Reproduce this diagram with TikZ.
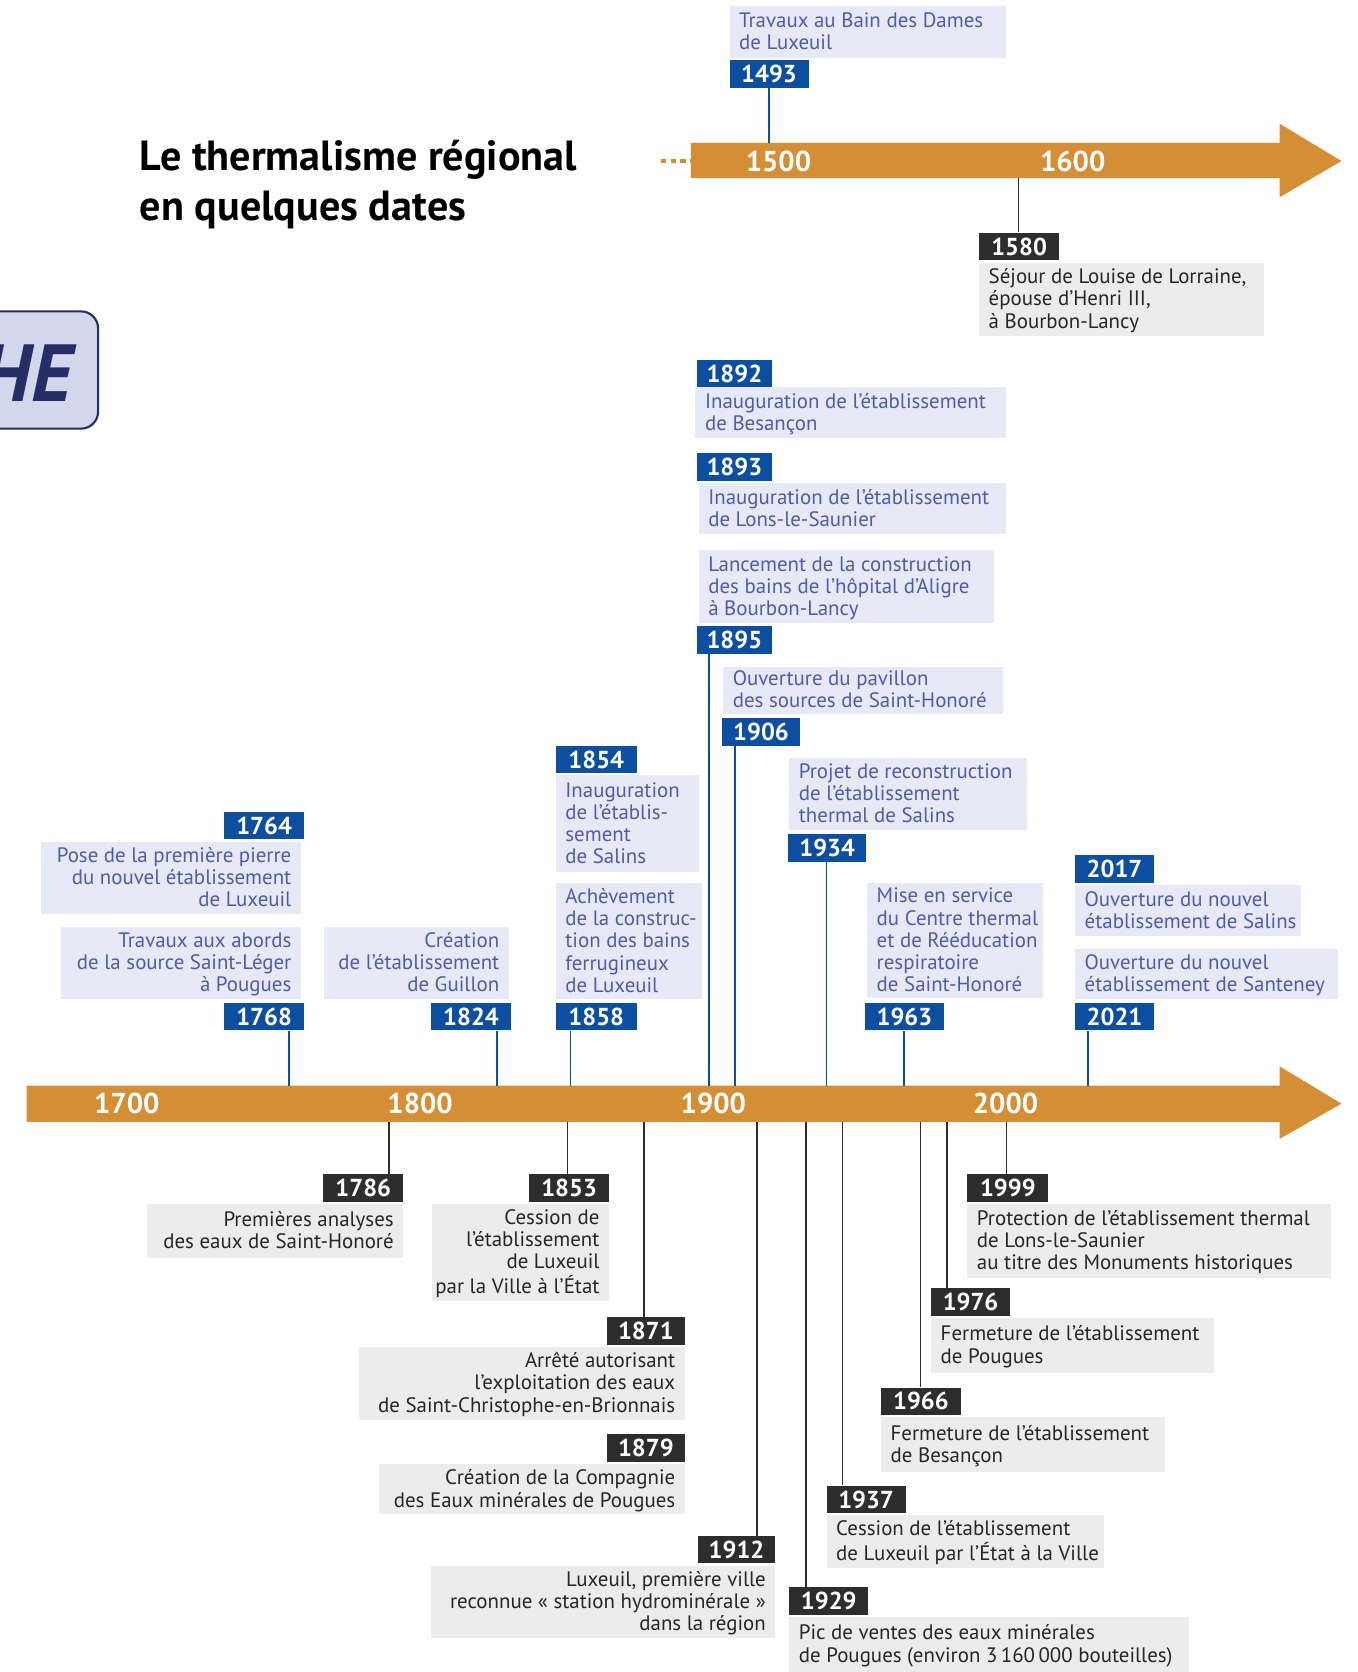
\documentclass[tikz,border=0pt]{standalone}
\usepackage{fontspec}
\setmainfont{PT Sans}
\definecolor{orng}{RGB}{214,142,52}
\definecolor{yblue}{RGB}{12,78,160}
\definecolor{lblue}{RGB}{231,233,246}
\definecolor{tblue}{RGB}{78,92,172}
\definecolor{lgray}{RGB}{236,236,236}
\definecolor{ydark}{RGB}{45,45,45}
\definecolor{tgray}{RGB}{38,38,38}
\definecolor{navy}{RGB}{38,46,102}
\definecolor{lav}{RGB}{210,215,235}
\newcommand\tbl[2]{\makebox[#1pt][l]{\raisebox{-2pt}[\height][\depth]{\begin{tabular}{@{}l@{}}#2\end{tabular}}}}
\newcommand\tbr[2]{\makebox[#1pt][r]{\raisebox{-2pt}[\height][\depth]{\begin{tabular}{@{}r@{}}#2\end{tabular}}}}
\begin{document}
\begin{tikzpicture}[x=1pt,y=-1pt,
 yr/.style={anchor=north west, minimum width=74pt, minimum height=26pt, inner sep=0pt, text=white, font=\fontsize{23}{23}\selectfont\bfseries},
 yrb/.style={yr, fill=yblue},
 yrd/.style={yr, fill=ydark},
 txt/.style={anchor=north west, inner xsep=9pt, inner ysep=0pt, font=\fontsize{19.6}{20.8}\selectfont},
 txb/.style={txt, fill=lblue, text=tblue},
 txg/.style={txt, fill=lgray, text=tgray},
 cb/.style={yblue, line width=1.6pt},
 cd/.style={ydark, line width=1.4pt},
 axl/.style={text=white, font=\fontsize{27}{27}\selectfont\bfseries, inner sep=0pt},
]
\useasboundingbox (0,0) rectangle (1273,1568);

% title
\node[anchor=west, align=left, inner sep=0pt, font=\fontsize{39.5}{47}\selectfont\bfseries] (title) at (131,173) {Le thermalisme régional\\en quelques dates};

% HE tab
\draw[navy, line width=2pt, fill=lav, rounded corners=16pt] (-40,292) rectangle (92,402);
\node[anchor=east, inner sep=0pt, text=navy, font=\fontsize{76}{76}\selectfont\bfseries\itshape] (he) at (68,350) {HE};

% top arrow
\draw[orng, line width=4pt, dash pattern=on 5pt off 4pt] (620,151) -- (648,151);
\fill[orng] (648,134) -- (1200,134) -- (1200,116) -- (1258,151) -- (1200,185) -- (1200,167) -- (648,167) -- cycle;
\node[axl] (l1500) at (730,151) {1500};
\node[axl] (l1600) at (1006,151) {1600};

% main arrow
\fill[orng] (25,1018) -- (1200,1018) -- (1200,1000) -- (1258,1035) -- (1200,1068) -- (1200,1052) -- (25,1052) -- cycle;
\node[axl] (l1700) at (119,1035) {1700};
\node[axl] (l1800) at (394,1035) {1800};
\node[axl] (l1900) at (669,1035) {1900};
\node[axl] (l2000) at (943,1035) {2000};

% ---- top events
\node[txb, minimum height=49pt] (t1493) at (684,5) {\tbl{241}{Travaux au Bain des Dames\\de Luxeuil}};
\node[yrb] (y1493) at (684,56) {1493};
\coordinate (m1493) at (721,134);
\draw[cb] (m1493) -- (m1493 |- y1493.south);

\node[yrd, minimum width=75pt] (y1580) at (918,218) {1580};
\node[txg, minimum height=69pt] (t1580) at (918,246) {\tbl{249}{Séjour de Louise de Lorraine,\\épouse d’Henri III,\\à Bourbon-Lancy}};
\coordinate (m1580) at (955,167);
\draw[cd] (m1580) -- (m1580 |- y1580.north);

% ---- blue events above main axis
\node[yrb, minimum width=71pt] (y1892) at (653,337) {1892};
\node[txb, minimum height=48pt] (t1892) at (652,363) {\tbl{273}{Inauguration de l’établissement\\de Besançon}};

\node[yrb, minimum width=71pt] (y1893) at (653,425) {1893};
\node[txb, minimum height=48pt] (t1893) at (655,453) {\tbl{270}{Inauguration de l’établissement\\de Lons-le-Saunier}};

\node[txb, minimum height=68pt] (t1895) at (655,516) {\tbl{259}{Lancement de la construction\\des bains de l’hôpital d’Aligre\\à Bourbon-Lancy}};
\node[yrb, minimum width=71pt] (y1895) at (653,587) {1895};

\node[txb, minimum height=44pt] (t1906) at (678,625) {\tbl{244}{Ouverture du pavillon\\des sources de Saint-Honoré}};
\node[yrb, minimum width=73pt] (y1906) at (677,673) {1906};

\node[txb, minimum height=67pt] (t1934) at (740,711) {\tbl{205}{Projet de reconstruction\\de l’établissement\\thermal de Salins}};
\node[yrb, minimum width=73pt] (y1934) at (739,782) {1934};

\node[txb, minimum height=108pt] (t1963) at (813,828) {\tbl{147}{Mise en service\\du Centre thermal\\et de Rééducation\\respiratoire\\de Saint-Honoré}};
\node[yrb] (y1963) at (811,940) {1963};

\node[yrb] (y2017) at (1008,802) {2017};
\node[txb, minimum height=48pt] (t2017) at (1008,830) {\tbl{194}{Ouverture du nouvel\\établissement de Salins}};
\node[txb, minimum height=47pt] (t2021) at (1008,890) {\tbl{229}{Ouverture du nouvel\\établissement de Santeney}};
\node[yrb] (y2021) at (1008,940) {2021};

\node[yrb, minimum width=76pt] (y1854) at (521,699) {1854};
\node[txb, minimum height=91pt] (t1854) at (521,727) {\tbl{116}{Inauguration\\de l’établis-\\sement\\de Salins}};
\node[txb, minimum height=109pt] (t1858) at (521,828) {\tbl{119}{Achèvement\\de la construc-\\tion des bains\\ferrugineux\\de Luxeuil}};
\node[yrb, minimum width=76pt] (y1858) at (521,940) {1858};

\node[yrb, minimum width=75pt] (y1764) at (210,761) {1764};
\node[txb, minimum height=68pt] (t1764) at (38,789) {\tbr{226}{Pose de la première pierre\\du nouvel établissement\\de Luxeuil}};
\node[txb, minimum height=68pt] (t1768) at (57,869) {\tbr{207}{Travaux aux abords\\de la source Saint-Léger\\à Pougues}};
\node[yrb, minimum width=75pt] (y1768) at (210,940) {1768};
\node[txb, minimum height=68pt] (t1824) at (304,869) {\tbr{155}{Création\\de l’établissement\\de Guillon}};
\node[yrb, minimum width=75pt] (y1824) at (404,940) {1824};

% blue connectors to main axis
\foreach \n/\x in {1768/271,1824/466,1858/535,1895/665,1906/689,1934/775,1963/848,2021/1020}{
  \coordinate (m\n) at (\x,1018);
  \draw[cb] (m\n) -- (m\n |- y\n.south);
}

% ---- dark events below main axis
\node[yrd, minimum width=75pt] (y1786) at (303,1101) {1786};
\node[txg, minimum height=51pt] (t1786) at (138,1129) {\tbr{222}{Premières analyses\\des eaux de Saint-Honoré}};

\node[yrd, minimum width=75pt] (y1853) at (496,1101) {1853};
\node[txg, minimum height=91pt] (t1853) at (405,1129) {\tbr{148}{Cession de\\l’établissement\\de Luxeuil\\par la Ville à l’État}};

\node[yrd, minimum width=73pt] (y1871) at (569,1235) {1871};
\node[txg, minimum height=68pt] (t1871) at (336,1263) {\tbr{288}{Arrêté autorisant\\l’exploitation des eaux\\de Saint-Christophe-en-Brionnais}};

\node[yrd, minimum width=73pt] (y1879) at (569,1345) {1879};
\node[txg, minimum height=47pt] (t1879) at (355,1373) {\tbr{269}{Création de la Compagnie\\des Eaux minérales de Pougues}};

\node[yrd, minimum width=73pt] (y1912) at (654,1440) {1912};
\node[txg, minimum height=68pt] (t1912) at (404,1468) {\tbr{305}{Luxeuil, première ville\\reconnue «~station hydrominérale~»\\dans la région}};

\node[yrd] (y1929) at (740,1488) {1929};
\node[txg, minimum height=52pt] (t1929) at (740,1516) {\tbl{357}{Pic de ventes des eaux minérales\\de Pougues (environ 3\,160\,000 bouteilles)}};

\node[yrd] (y1937) at (775,1393) {1937};
\node[txg, minimum height=49pt] (t1937) at (775,1421) {\tbl{242}{Cession de l’établissement\\de Luxeuil par l’État à la Ville}};

\node[yrd, minimum width=75pt] (y1966) at (826,1301) {1966};
\node[txg, minimum height=51pt] (t1966) at (826,1329) {\tbl{248}{Fermeture de l’établissement\\de Besançon}};

\node[yrd] (y1976) at (873,1208) {1976};
\node[txg, minimum height=51pt] (t1976) at (873,1236) {\tbl{247}{Fermeture de l’établissement\\de Pougues}};

\node[yrd, minimum width=76pt] (y1999) at (907,1101) {1999};
\node[txg, minimum height=69pt] (t1999) at (907,1129) {\tbl{323}{Protection de l’établissement thermal\\de Lons-le-Saunier\\au titre des Monuments historiques}};

\foreach \n/\x in {1786/365,1853/532,1871/604,1912/710,1929/756,1937/790,1966/863,1976/888,1999/944}{
  \coordinate (m\n) at (\x,1052);
  \draw[cd] (m\n) -- (m\n |- y\n.north);
}
\end{tikzpicture}
\end{document}
